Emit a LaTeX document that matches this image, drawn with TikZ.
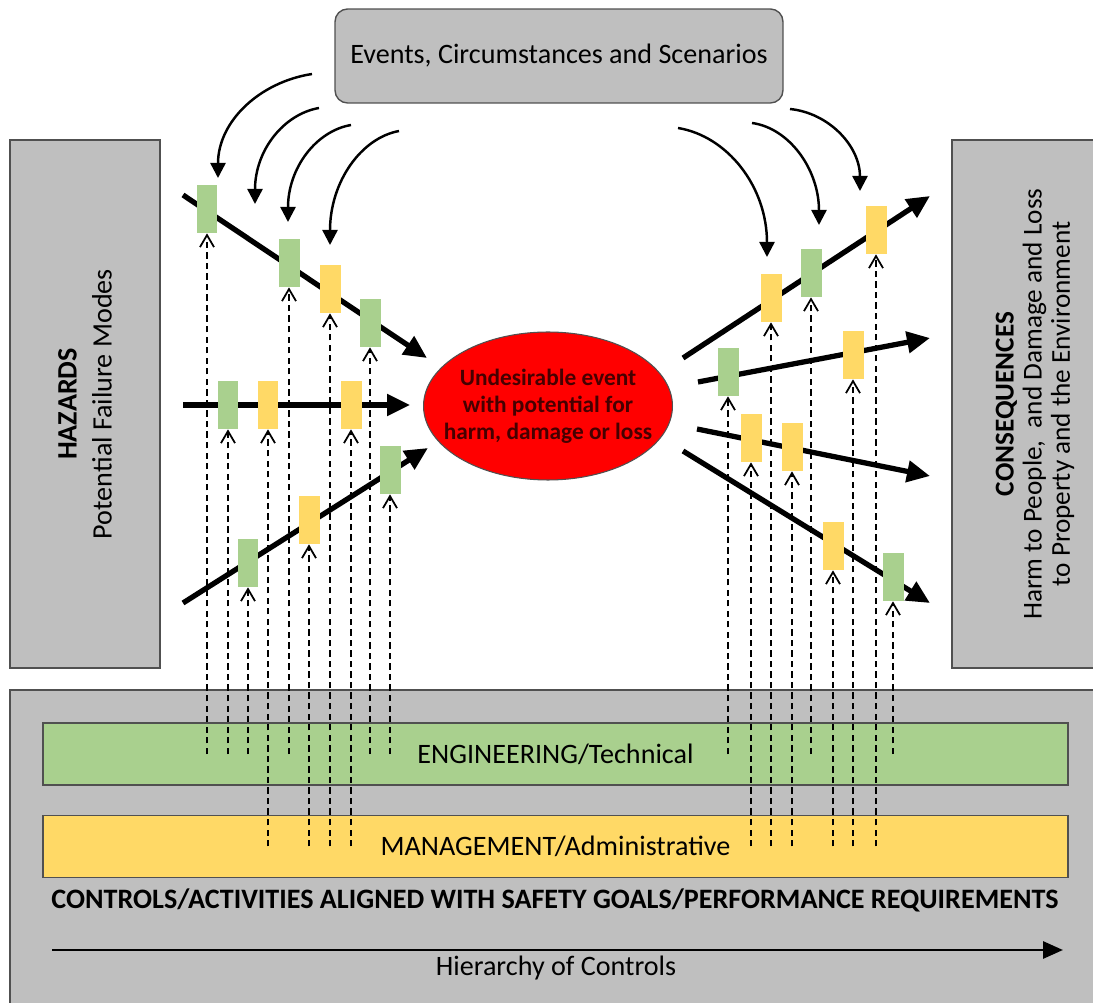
\documentclass[tikz,border=0pt]{standalone}
\usepackage{fontspec}
\setmainfont{Carlito}
\usetikzlibrary{arrows.meta,positioning,shapes.geometric}
\definecolor{boxgray}{RGB}{191,191,191}
\definecolor{edgegray}{RGB}{80,80,80}
\definecolor{ctlgreen}{RGB}{169,208,142}
\definecolor{ctlyellow}{RGB}{255,217,102}
\definecolor{darkred}{RGB}{70,0,0}

\begin{document}
\begin{tikzpicture}[x=0.02cm,y=-0.02cm,
    panel/.style={rectangle, draw=edgegray, fill=boxgray, line width=0.8pt},
    barg/.style={rectangle, fill=ctlgreen, minimum width=0.42cm, minimum height=0.96cm, inner sep=0pt},
    bary/.style={barg, fill=ctlyellow},
    band/.style={rectangle, draw=edgegray, line width=0.8pt, minimum width=20.5cm, minimum height=1.24cm, txt},
    flow/.style={line width=3pt, >={Triangle[length=4.6mm,width=4.2mm]}},
    event/.style={line width=1.4pt, >={Triangle[length=3mm,width=3mm]}},
    ctl/.style={dash pattern=on 3.6pt off 2.4pt, line width=1pt, >={Straight Barb[length=2.4mm,width=2.8mm]}},
    txt/.style={font=\fontsize{16}{19}\selectfont}
  ]

\useasboundingbox (0,0) rectangle (1093,1003);

% side and bottom panels
\node[panel, minimum width=3cm, minimum height=10.56cm] (haz) at (85,404) {};
\node[txt, rotate=90, align=center] (haz_t) at (haz.center) {\textbf{HAZARDS}\\[1pt]Potential Failure Modes};
\node[panel, minimum width=3.32cm, minimum height=10.56cm] (cons) at (1035,404) {};
\node[rotate=90, align=center, font=\fontsize{15.5}{16}\selectfont] (cons_t) at (cons.center) {\textbf{CONSEQUENCES}\\Harm to People,\ \ and Damage and Loss\\to Property and the Environment};
\node[panel, minimum width=22cm, minimum height=6.6cm] (ctrl) at (560,855) {};
\node[panel, rounded corners=0.25cm, minimum width=8.96cm, minimum height=1.88cm, txt] (ev) at (559,56) {Events, Circumstances and Scenarios};

% control bands
\node[band, fill=ctlgreen] (eng) at (555.5,754) {ENGINEERING/Technical};
\node[band, fill=ctlyellow] (mgt) [below=0.58cm of eng] {MANAGEMENT/Administrative};
\node[txt, font=\fontsize{16}{19}\selectfont\bfseries] (goals) at (555,900) {CONTROLS/ACTIVITIES ALIGNED WITH SAFETY GOALS/PERFORMANCE REQUIREMENTS};
\coordinate (hier_a) at (52,950);
\coordinate (hier_b) at (1063,950);
\draw[line width=1.7pt, ->, >={Triangle[length=4mm,width=3.4mm]}] (hier_a) -- (hier_b);
\node[txt] (hier_t) at (556,968) {Hierarchy of Controls};

% central event
\node[ellipse, fill=red, draw=edgegray, line width=0.6pt, inner sep=0pt, minimum width=4.98cm, minimum height=2.96cm] (ue) at (548,406) {};
\node[align=center, text=darkred, font=\fontsize{13.3}{15.3}\selectfont\bfseries] (ue_t) at (ue.center) {Undesirable event\\with potential for\\harm, damage or loss};

% threat and consequence paths
\coordinate (fa_s) at (183,195); \coordinate (fa_e) at (427,358);
\coordinate (fb_s) at (183,405); \coordinate (fb_e) at (410,405);
\coordinate (fc_s) at (183,603); \coordinate (fc_e) at (428,448);
\coordinate (ga_s) at (683,358); \coordinate (ga_e) at (930,196);
\coordinate (gb_s) at (698,382); \coordinate (gb_e) at (930,338);
\coordinate (gc_s) at (697,429); \coordinate (gc_e) at (930,476);
\coordinate (gd_s) at (683,451); \coordinate (gd_e) at (930,603);
\draw[flow,->] (fa_s) -- (fa_e);
\draw[flow,->] (fb_s) -- (fb_e);
\draw[flow,->] (fc_s) -- (fc_e);
\draw[flow,->] (ga_s) -- (ga_e);
\draw[flow,->] (gb_s) -- (gb_e);
\draw[flow,->] (gc_s) -- (gc_e);
\draw[flow,->] (gd_s) -- (gd_e);

% barriers on the paths
\node[barg] (ha_1) at (207,209) {};
\node[barg] (ha_2) at (289,263) {};
\node[bary] (ha_3) at (330,289) {};
\node[barg] (ha_4) at (370,323) {};
\node[barg] (hb_1) at (228,405) {};
\node[bary] (hb_2) at (268,405) {};
\node[bary] (hb_3) at (351,405) {};
\node[barg] (hc_1) at (248,563) {};
\node[bary] (hc_2) at (309,520) {};
\node[barg] (hc_3) at (390,470) {};
\node[bary] (ca_1) at (771,298) {};
\node[barg] (ca_2) at (811,273) {};
\node[bary] (ca_3) at (876,230) {};
\node[barg] (cb_1) at (728,372) {};
\node[bary] (cb_2) at (853,355) {};
\node[bary] (cc_1) at (751,438) {};
\node[bary] (cc_2) at (792,447) {};
\node[bary] (cd_1) at (833,546) {};
\node[barg] (cd_2) at (893,577) {};

% links from the control bands
\draw[ctl,->] (ha_1.south |- eng.center) -- (ha_1.south);
\draw[ctl,->] (ha_2.south |- eng.center) -- (ha_2.south);
\draw[ctl,->] (ha_3.south |- mgt.center) -- (ha_3.south);
\draw[ctl,->] (ha_4.south |- eng.center) -- (ha_4.south);
\draw[ctl,->] (hb_1.south |- eng.center) -- (hb_1.south);
\draw[ctl,->] (hb_2.south |- mgt.center) -- (hb_2.south);
\draw[ctl,->] (hb_3.south |- mgt.center) -- (hb_3.south);
\draw[ctl,->] (hc_1.south |- eng.center) -- (hc_1.south);
\draw[ctl,->] (hc_2.south |- mgt.center) -- (hc_2.south);
\draw[ctl,->] (hc_3.south |- eng.center) -- (hc_3.south);
\draw[ctl,->] (ca_1.south |- mgt.center) -- (ca_1.south);
\draw[ctl,->] (ca_2.south |- eng.center) -- (ca_2.south);
\draw[ctl,->] (ca_3.south |- mgt.center) -- (ca_3.south);
\draw[ctl,->] (cb_1.south |- eng.center) -- (cb_1.south);
\draw[ctl,->] (cb_2.south |- mgt.center) -- (cb_2.south);
\draw[ctl,->] (cc_1.south |- mgt.center) -- (cc_1.south);
\draw[ctl,->] (cc_2.south |- mgt.center) -- (cc_2.south);
\draw[ctl,->] (cd_1.south |- mgt.center) -- (cd_1.south);
\draw[ctl,->] (cd_2.south |- eng.center) -- (cd_2.south);

% events acting on the paths
\coordinate (ev_1) at (312,74);  \coordinate (ev_1e) at (218,178);
\coordinate (ev_2) at (319,108); \coordinate (ev_2e) at (255,204);
\coordinate (ev_3) at (351,125); \coordinate (ev_3e) at (288,222);
\coordinate (ev_4) at (399,131); \coordinate (ev_4e) at (330,245);
\coordinate (ev_5) at (678,128); \coordinate (ev_5e) at (767,257);
\coordinate (ev_6) at (752,123); \coordinate (ev_6e) at (819,225);
\coordinate (ev_7) at (790,109); \coordinate (ev_7e) at (860,191);
\draw[event,->] (ev_1) .. controls (260,82) and (218,121) .. (ev_1e);
\draw[event,->] (ev_2) .. controls (284,114) and (255,150) .. (ev_2e);
\draw[event,->] (ev_3) .. controls (316,131) and (288,168) .. (ev_3e);
\draw[event,->] (ev_4) .. controls (361,138) and (330,182) .. (ev_4e);
\draw[event,->] (ev_5) .. controls (727,136) and (767,186) .. (ev_5e);
\draw[event,->] (ev_6) .. controls (789,128) and (819,169) .. (ev_6e);
\draw[event,->] (ev_7) .. controls (829,113) and (860,146) .. (ev_7e);
\end{tikzpicture}
\end{document}
